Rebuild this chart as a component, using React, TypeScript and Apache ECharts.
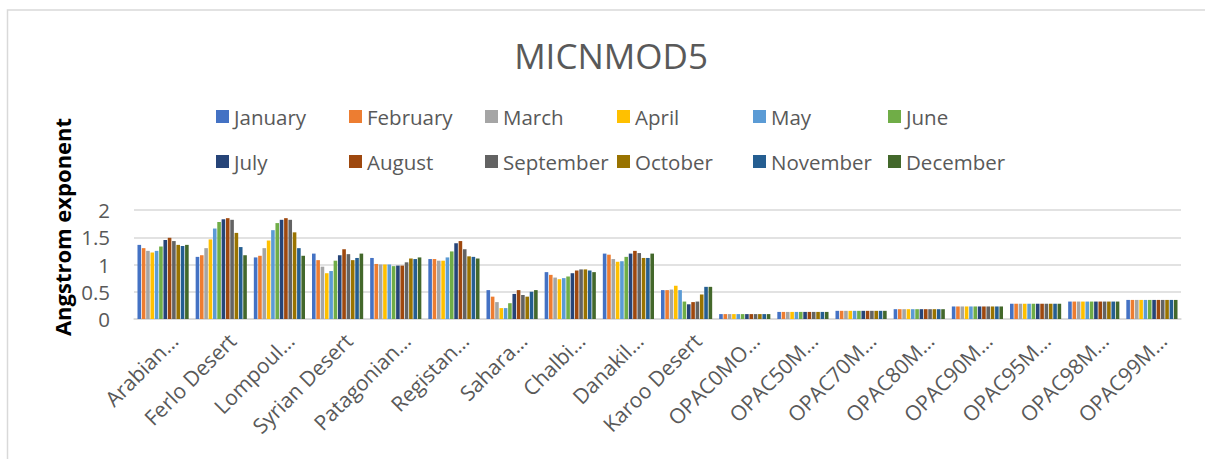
import React, { useEffect, useRef } from "react";
import * as echarts from "echarts";

const categories = [
  "Arabian…", "Ferlo Desert", "Lompoul…", "Syrian Desert", "Patagonian…", "Registan…",
  "Sahara…", "Chalbi…", "Danakil…", "Karoo Desert", "OPAC0MO…", "OPAC50M…",
  "OPAC70M…", "OPAC80M…", "OPAC90M…", "OPAC95M…", "OPAC98M…", "OPAC99M…",
];

const months = [
  "January", "February", "March", "April", "May", "June",
  "July", "August", "September", "October", "November", "December",
];

const january = [1.36, 1.14, 1.13, 1.20, 1.12, 1.10, 0.53, 0.86, 1.20, 0.53, 0.09, 0.13, 0.15, 0.18, 0.23, 0.28, 0.32, 0.35];
const february = [1.30, 1.17, 1.16, 1.08, 1.01, 1.10, 0.41, 0.81, 1.18, 0.53, 0.09, 0.13, 0.15, 0.18, 0.23, 0.28, 0.32, 0.35];
const march = [1.25, 1.30, 1.30, 0.96, 1.00, 1.07, 0.31, 0.76, 1.10, 0.54, 0.09, 0.13, 0.15, 0.18, 0.23, 0.28, 0.32, 0.35];
const april = [1.22, 1.46, 1.44, 0.84, 1.00, 1.07, 0.20, 0.73, 1.05, 0.61, 0.09, 0.13, 0.15, 0.18, 0.23, 0.28, 0.32, 0.35];
const may = [1.25, 1.66, 1.63, 0.88, 1.00, 1.13, 0.20, 0.75, 1.06, 0.53, 0.09, 0.13, 0.15, 0.18, 0.23, 0.28, 0.32, 0.35];
const june = [1.33, 1.78, 1.76, 1.07, 0.97, 1.24, 0.29, 0.78, 1.14, 0.32, 0.09, 0.13, 0.15, 0.18, 0.23, 0.28, 0.32, 0.35];
const july = [1.45, 1.83, 1.82, 1.17, 0.98, 1.39, 0.46, 0.84, 1.20, 0.27, 0.09, 0.13, 0.15, 0.18, 0.23, 0.28, 0.32, 0.35];
const august = [1.49, 1.85, 1.85, 1.28, 0.98, 1.43, 0.53, 0.89, 1.25, 0.31, 0.09, 0.13, 0.15, 0.18, 0.23, 0.28, 0.32, 0.35];
const september = [1.43, 1.82, 1.82, 1.19, 1.04, 1.28, 0.44, 0.91, 1.21, 0.32, 0.09, 0.13, 0.15, 0.18, 0.23, 0.28, 0.32, 0.35];
const october = [1.36, 1.58, 1.59, 1.08, 1.11, 1.15, 0.41, 0.91, 1.12, 0.45, 0.09, 0.13, 0.15, 0.18, 0.23, 0.28, 0.32, 0.35];
const november = [1.34, 1.32, 1.30, 1.12, 1.10, 1.14, 0.50, 0.89, 1.12, 0.59, 0.09, 0.13, 0.15, 0.18, 0.23, 0.28, 0.32, 0.35];
const december = [1.36, 1.17, 1.16, 1.20, 1.13, 1.11, 0.53, 0.86, 1.20, 0.59, 0.09, 0.13, 0.15, 0.18, 0.23, 0.28, 0.32, 0.35];

const seriesValues = [january, february, march, april, may, june, july, august, september, october, november, december];

const colors = [
  "#4472C4", "#ED7D31", "#A5A5A5", "#FFC000", "#5B9BD5", "#70AD47",
  "#264478", "#9E480E", "#636363", "#997300", "#255E91", "#43682B",
];

const yTicks = [0, 0.5, 1, 1.5, 2];

const FONT = "'Open Sans', 'DejaVu Sans', sans-serif";
const TEXT_COLOR = "#595959";

export default function App() {
  const ref = useRef<HTMLDivElement>(null);

  useEffect(() => {
    if (!ref.current) return;
    const chart = echarts.init(ref.current, undefined, { renderer: "svg" });

    const legendCols = [216, 349, 485, 617, 753, 888];
    const legendRows = [106, 151];

    const legends = months.map((m, i) => ({
      show: true,
      data: [m],
      left: legendCols[i % 6],
      top: legendRows[Math.floor(i / 6)],
      padding: 0,
      itemWidth: 13,
      itemHeight: 13,
      itemGap: 5,
      icon: "rect",
      selectedMode: false,
      textStyle: { fontFamily: FONT, fontSize: 20.5, color: TEXT_COLOR },
    }));

    chart.setOption({
      animation: false,
      color: colors,
      textStyle: { fontFamily: FONT },
      legend: legends,
      grid: { left: 134, right: 24, top: 210, bottom: 140, containLabel: false },
      xAxis: {
        type: "category",
        data: categories,
        axisLine: { show: true, lineStyle: { color: "#d9d9d9", width: 1.5 } },
        axisTick: { show: false },
        axisLabel: {
          rotate: 45,
          fontSize: 21,
          color: TEXT_COLOR,
          fontFamily: FONT,
          margin: 7,
          interval: 0,
          verticalAlign: "top",
          padding: [5, 0, 0, 0],
        },
      },
      yAxis: {
        type: "value",
        min: yTicks[0],
        max: yTicks[yTicks.length - 1],
        interval: 0.5,
        axisLine: { show: false },
        axisTick: { show: false },
        axisLabel: { fontSize: 20.5, color: TEXT_COLOR, fontFamily: FONT, margin: 24 },
        splitLine: { lineStyle: { color: "#d9d9d9", width: 1.5 } },
      },
      series: months.map((m, i) => ({
        name: m,
        type: "bar",
        data: seriesValues[i],
        barGap: "20%",
        barCategoryGap: "12%",
        itemStyle: { color: colors[i] },
      })),
      graphic: [
        {
          type: "rect",
          shape: { x: 7.5, y: 10, width: 1400, height: 600 },
          style: { fill: "none", stroke: "#d9d9d9", lineWidth: 1.5 },
          silent: true,
        },
        {
          type: "text",
          x: 611,
          y: 55,
          style: {
            text: "MICNMOD5",
            fontFamily: FONT,
            fontSize: 35,
            fill: TEXT_COLOR,
            align: "center",
            verticalAlign: "middle",
          },
        },
        {
          type: "text",
          x: 62,
          y: 227,
          rotation: Math.PI / 2,
          style: {
            text: "Angstrom exponent",
            fontFamily: FONT,
            fontSize: 22,
            fontWeight: "bold",
            fill: "#000000",
            align: "center",
            verticalAlign: "middle",
          },
        },
      ],
    });

    return () => chart.dispose();
  }, []);

  return (
    <div
      ref={ref}
      style={{ position: "absolute", left: 0, top: 0, width: 1205, height: 459, background: "#ffffff" }}
    />
  );
}
